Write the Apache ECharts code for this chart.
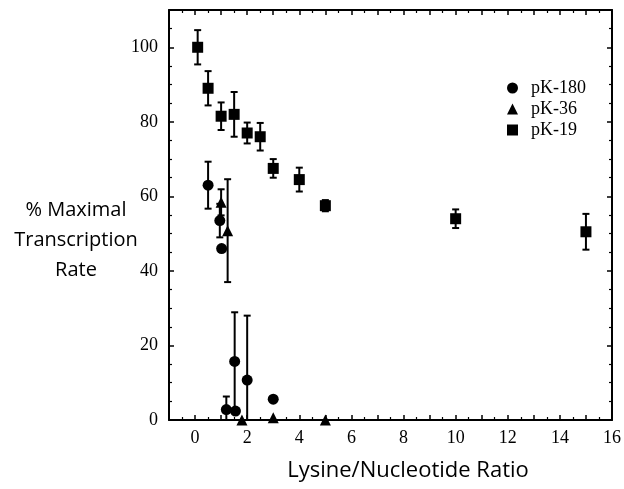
<!DOCTYPE html>
<html><head><meta charset="utf-8">
<script src="https://cdn.jsdelivr.net/npm/echarts@6/dist/echarts.min.js"></script>
<style>html,body{margin:0;padding:0;background:#fff}#c{width:624px;height:489px}</style>
</head><body><div id="c"></div>
<script>
// pK-19 (squares)
const pk19X = [0.1, 0.5, 1.0, 1.5, 2.0, 2.5, 3.0, 4.0, 5.0, 10.0, 15.0];
const pk19Y = [100, 89, 81.5, 82, 77, 76, 67.5, 64.5, 57.5, 54, 50.5];
const pk19Err = [4.6, 4.6, 3.7, 6, 2.8, 3.7, 2.5, 3.2, 1.5, 2.5, 4.8];
// pK-180 (circles)
const pk180X = [0.5, 0.95, 1.02, 1.2, 1.55, 1.52, 2.0, 3.0];
const pk180Y = [63, 53.5, 46, 2.8, 2.4, 15.7, 10.7, 5.6];
const pk180Err = [6.3, 4.5, 0, 3.5, 0, 13.2, 17.3, 0];
// pK-36 (triangles)
const pk36X = [1.0, 1.25, 1.8, 3.0, 5.0];
const pk36Y = [58.4, 50.8, 0, 0.6, 0];
const pk36Err = [3.5, 13.8, 0, 0, 0];

const xTickLabels = ['0','2','4','6','8','10','12','14','16'];
const yTickLabels = ['0','20','40','60','80','100'];

const serif = 'Liberation Serif';
const pts = (xs, ys) => xs.map((x, i) => [x, ys[i]]);
const errs = (xs, ys, es) => xs.map((x, i) => [x, ys[i], es[i]]).filter(d => d[2] > 0);

function errRender(params, api) {
  const x = api.value(0), y = api.value(1), e = api.value(2);
  const top = api.coord([x, y + e]);
  const bot = api.coord([x, Math.max(0, y - e)]);
  const cap = 3.5;
  const st = { stroke: '#000', lineWidth: 2 };
  const children = [
    { type: 'line', shape: { x1: top[0], y1: top[1], x2: bot[0], y2: bot[1] }, style: st },
    { type: 'line', shape: { x1: top[0] - cap, y1: top[1], x2: top[0] + cap, y2: top[1] }, style: st }
  ];
  if (y - e > 0) children.push({ type: 'line', shape: { x1: bot[0] - cap, y1: bot[1], x2: bot[0] + cap, y2: bot[1] }, style: st });
  return { type: 'group', children };
}

const axisCommon = {
  axisLine: { show: true, onZero: false, lineStyle: { color: '#000', width: 2 } },
  axisTick: { show: true, inside: true, length: 5, lineStyle: { color: '#000', width: 1.5 } },
  minorTick: { show: true, length: 3, lineStyle: { color: '#000', width: 1.2 } },
  splitLine: { show: false }
};

const chart = echarts.init(document.getElementById('c'), null, { renderer: 'canvas' });
chart.setOption({
  animation: false,
  backgroundColor: '#fff',
  grid: { left: 169, right: 7, top: 10, bottom: 69 },
  legend: {
    orient: 'vertical', left: 502, top: 74, itemGap: 3,
    itemWidth: 11, itemHeight: 11,
    data: [
      { name: 'pK-180', icon: 'circle' },
      { name: 'pK-36', icon: 'triangle' },
      { name: 'pK-19', icon: 'rect' }
    ],
    itemStyle: { color: '#000', opacity: 1 },
    textStyle: { fontFamily: serif, fontSize: 18, color: '#000', padding: [0, 0, 0, 8] }
  },
  xAxis: [
    Object.assign({}, axisCommon, {
      type: 'value', min: -1, max: 16, interval: 1,
      minorTick: Object.assign({}, axisCommon.minorTick, { splitNumber: 2 }),
      axisLabel: {
        margin: 9, color: '#000', fontFamily: serif, fontSize: 18,
        formatter: v => xTickLabels.includes(String(v)) ? String(v) : ''
      }
    }),
    Object.assign({}, axisCommon, {
      type: 'value', position: 'top', min: -1, max: 16, interval: 1,
      minorTick: Object.assign({}, axisCommon.minorTick, { splitNumber: 2 }),
      axisLabel: { show: false }
    })
  ],
  yAxis: [
    Object.assign({}, axisCommon, {
      type: 'value', min: 0, max: 110, interval: 20,
      minorTick: Object.assign({}, axisCommon.minorTick, { splitNumber: 4 }),
      axisLabel: {
        margin: 11, color: '#000', fontFamily: serif, fontSize: 18, padding: [5, 0, 0, 0],
        formatter: v => yTickLabels.includes(String(v)) ? String(v) : ''
      }
    }),
    Object.assign({}, axisCommon, {
      type: 'value', position: 'right', min: 0, max: 110, interval: 20,
      minorTick: Object.assign({}, axisCommon.minorTick, { splitNumber: 4 }),
      axisLabel: { show: false }
    })
  ],
  graphic: [
    {
      type: 'text', x: 76, y: 195,
      style: {
        text: '% Maximal\nTranscription\nRate', align: 'center',
        font: '20px "Open Sans"', lineHeight: 30, fill: '#000'
      }
    },
    {
      type: 'text', x: 408, y: 471,
      style: {
        text: 'Lysine/Nucleotide Ratio', align: 'center', verticalAlign: 'middle',
        font: '22px "Open Sans"', fill: '#000'
      }
    }
  ],
  series: [
    { name: 'pK-180 err', type: 'custom', renderItem: errRender, data: errs(pk180X, pk180Y, pk180Err), z: 1 },
    { name: 'pK-36 err', type: 'custom', renderItem: errRender, data: errs(pk36X, pk36Y, pk36Err), z: 1 },
    { name: 'pK-19 err', type: 'custom', renderItem: errRender, data: errs(pk19X, pk19Y, pk19Err), z: 1 },
    { name: 'pK-180', type: 'scatter', symbol: 'circle', symbolSize: 11, itemStyle: { color: '#000', opacity: 1 }, data: pts(pk180X, pk180Y), z: 2 },
    { name: 'pK-36', type: 'scatter', symbol: 'triangle', symbolSize: 11, itemStyle: { color: '#000', opacity: 1 }, data: pts(pk36X, pk36Y), z: 2 },
    { name: 'pK-19', type: 'scatter', symbol: 'rect', symbolSize: 11, itemStyle: { color: '#000', opacity: 1 }, data: pts(pk19X, pk19Y), z: 2 }
  ]
});
</script>
</body></html>
